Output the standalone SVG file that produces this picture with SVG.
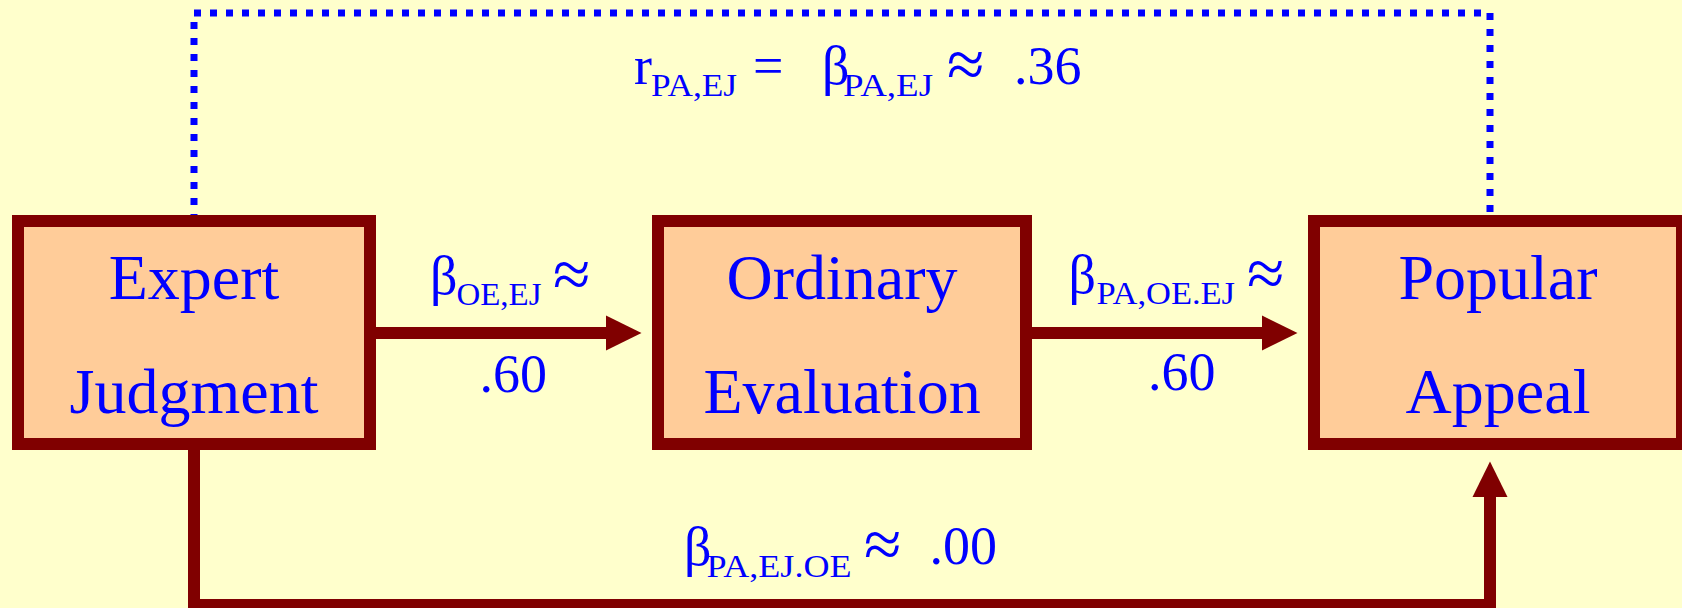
<svg xmlns="http://www.w3.org/2000/svg" width="1682" height="608" viewBox="0 0 1682 608">
<style>
.box{fill:#FFCC99;stroke:#800000;stroke-width:12}
.node{font-family:"Liberation Serif","Times New Roman",serif;font-size:64px;fill:#0000FF;text-anchor:middle}
.lbl{font-family:"Liberation Serif","Times New Roman",serif;font-size:54px;fill:#0000FF}
.apx{font-family:"Liberation Serif","Times New Roman",serif;font-size:68px;fill:#0000FF}
.sub{font-family:"Liberation Serif","Times New Roman",serif;font-size:32px;fill:#0000FF}
.conn{fill:none;stroke:#800000;stroke-width:12}
.dot{fill:none;stroke:#0000FF;stroke-width:7;stroke-dasharray:7 9}
</style>
<defs>
<marker id="head" markerUnits="userSpaceOnUse" markerWidth="36" markerHeight="36" viewBox="0 -18 36 36" refX="0" refY="0" orient="auto" overflow="visible">
<path d="M0,-17.5 L35.5,0 L0,17.5 Z" fill="#800000"/>
</marker>
</defs>
<rect width="1682" height="608" fill="#FFFFCC"/>
<g id="connectors">
<path class="dot" d="M194,221 V13 H1490 V221"/>
<path class="conn" d="M376,333 H606" marker-end="url(#head)"/>
<path class="conn" d="M1032,333 H1262" marker-end="url(#head)"/>
<path class="conn" d="M194,450 V605 H1490 V497" marker-end="url(#head)"/>
</g>
<g id="expert">
<rect class="box" x="18" y="221" width="352" height="223"/>
<text class="node" x="194" y="299">Expert</text>
<text class="node" x="194" y="413">Judgment</text>
</g>
<g id="ordinary">
<rect class="box" x="658" y="221" width="368" height="223"/>
<text class="node" x="842" y="299">Ordinary</text>
<text class="node" x="842" y="413">Evaluation</text>
</g>
<g id="popular">
<rect class="box" x="1314" y="221" width="368" height="223"/>
<text class="node" x="1498" y="299">Popular</text>
<text class="node" x="1498" y="413">Appeal</text>
</g>
<g id="label-top">
<text class="lbl" x="634" y="84">r</text>
<text class="sub" x="651" y="96" textLength="86" lengthAdjust="spacingAndGlyphs">PA,EJ</text>
<text class="lbl" x="753" y="84">=</text>
<text class="lbl" x="822" y="84">β</text>
<text class="sub" x="843" y="96" textLength="90" lengthAdjust="spacingAndGlyphs">PA,EJ</text>
<text class="apx" x="947" y="87">≈</text>
<text class="lbl" x="1014" y="84">.36</text>
</g>
<g id="label-oe-ej">
<text class="lbl" x="430" y="294">β</text>
<text class="sub" x="456.5" y="305" textLength="85" lengthAdjust="spacingAndGlyphs">OE,EJ</text>
<text class="apx" x="553" y="297">≈</text>
<text class="lbl" x="479.5" y="391.5">.60</text>
</g>
<g id="label-pa-oe">
<text class="lbl" x="1068.5" y="293">β</text>
<text class="sub" x="1096.5" y="304" textLength="138.5" lengthAdjust="spacingAndGlyphs">PA,OE.EJ</text>
<text class="apx" x="1247" y="296">≈</text>
<text class="lbl" x="1148" y="390">.60</text>
</g>
<g id="label-pa-ej">
<text class="lbl" x="684" y="565">β</text>
<text class="sub" x="706.5" y="577" textLength="145" lengthAdjust="spacingAndGlyphs">PA,EJ.OE</text>
<text class="apx" x="864" y="567">≈</text>
<text class="lbl" x="929.5" y="564">.00</text>
</g>
</svg>
